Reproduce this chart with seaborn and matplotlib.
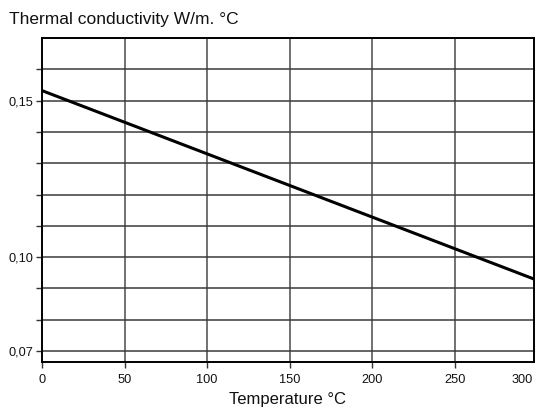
import numpy as np
import pandas as pd
import matplotlib
matplotlib.use("Agg")
import matplotlib.pyplot as plt
import seaborn as sns

# Data
temperature = [0, 50, 100, 150, 200, 250, 300]
conductivity = [0.1532, 0.1431, 0.1330, 0.1229, 0.1128, 0.1027, 0.0926]

y_grid = [0.07, 0.08, 0.09, 0.10, 0.11, 0.12, 0.13, 0.14, 0.15, 0.16, 0.17]
y_labels = {0.07: "0,07", 0.10: "0,10", 0.15: "0,15"}
x_ticks = [0, 50, 100, 150, 200, 250]

df = pd.DataFrame({"Temperature": temperature, "k": conductivity})

sns.set_style("white")
plt.rcParams["font.family"] = ["Liberation Sans", "DejaVu Sans"]
plt.rcParams["text.color"] = "#111111"
plt.rcParams["xtick.color"] = "#111111"
plt.rcParams["ytick.color"] = "#111111"
plt.rcParams["axes.labelcolor"] = "#111111"

fig = plt.figure(figsize=(5.35, 4.09), dpi=100)
ax = fig.add_axes([0.0785, 0.115, 0.9195, 0.792])

sns.lineplot(data=df, x="Temperature", y="k", color="black", linewidth=2.2, ax=ax)

ax.set_xlim(0, 298)
ax.set_ylim(0.0665, 0.17)

# grid lines
for x in x_ticks[1:]:
    ax.axvline(x, color="#4a4a4a", linewidth=1.1, zorder=1)
for y in y_grid:
    ax.axhline(y, color="#3a3a3a", linewidth=1.1, zorder=1)

ax.set_yticks(y_grid[:-1])
ax.set_yticklabels([y_labels.get(round(v, 2), "") for v in y_grid[:-1]], fontsize=9.2)
ax.set_xticks(x_ticks)
ax.set_xticklabels([str(v) for v in x_ticks], fontsize=9.2)
ax.tick_params(axis="both", which="both", length=4, width=1, color="#333333",
               direction="out", left=True, bottom=True)
ax.tick_params(axis="y", pad=2)
ax.tick_params(axis="x", pad=5)

# 300 label sits just inside the figure edge
ax.annotate("300", xy=(291, 0), xycoords=("data", "axes fraction"),
            xytext=(0, -9), textcoords="offset points",
            ha="center", va="top", fontsize=9.2)

for s in ax.spines.values():
    s.set_color("black")
    s.set_linewidth(1.4)

ax.set_xlabel("Temperature °C", fontsize=12, labelpad=4)
ax.set_ylabel("")
fig.text(0.017, 0.953, "Thermal conductivity W/m. °C", fontsize=12.5,
         ha="left", va="center")

fig.savefig("out.png", dpi=100)
